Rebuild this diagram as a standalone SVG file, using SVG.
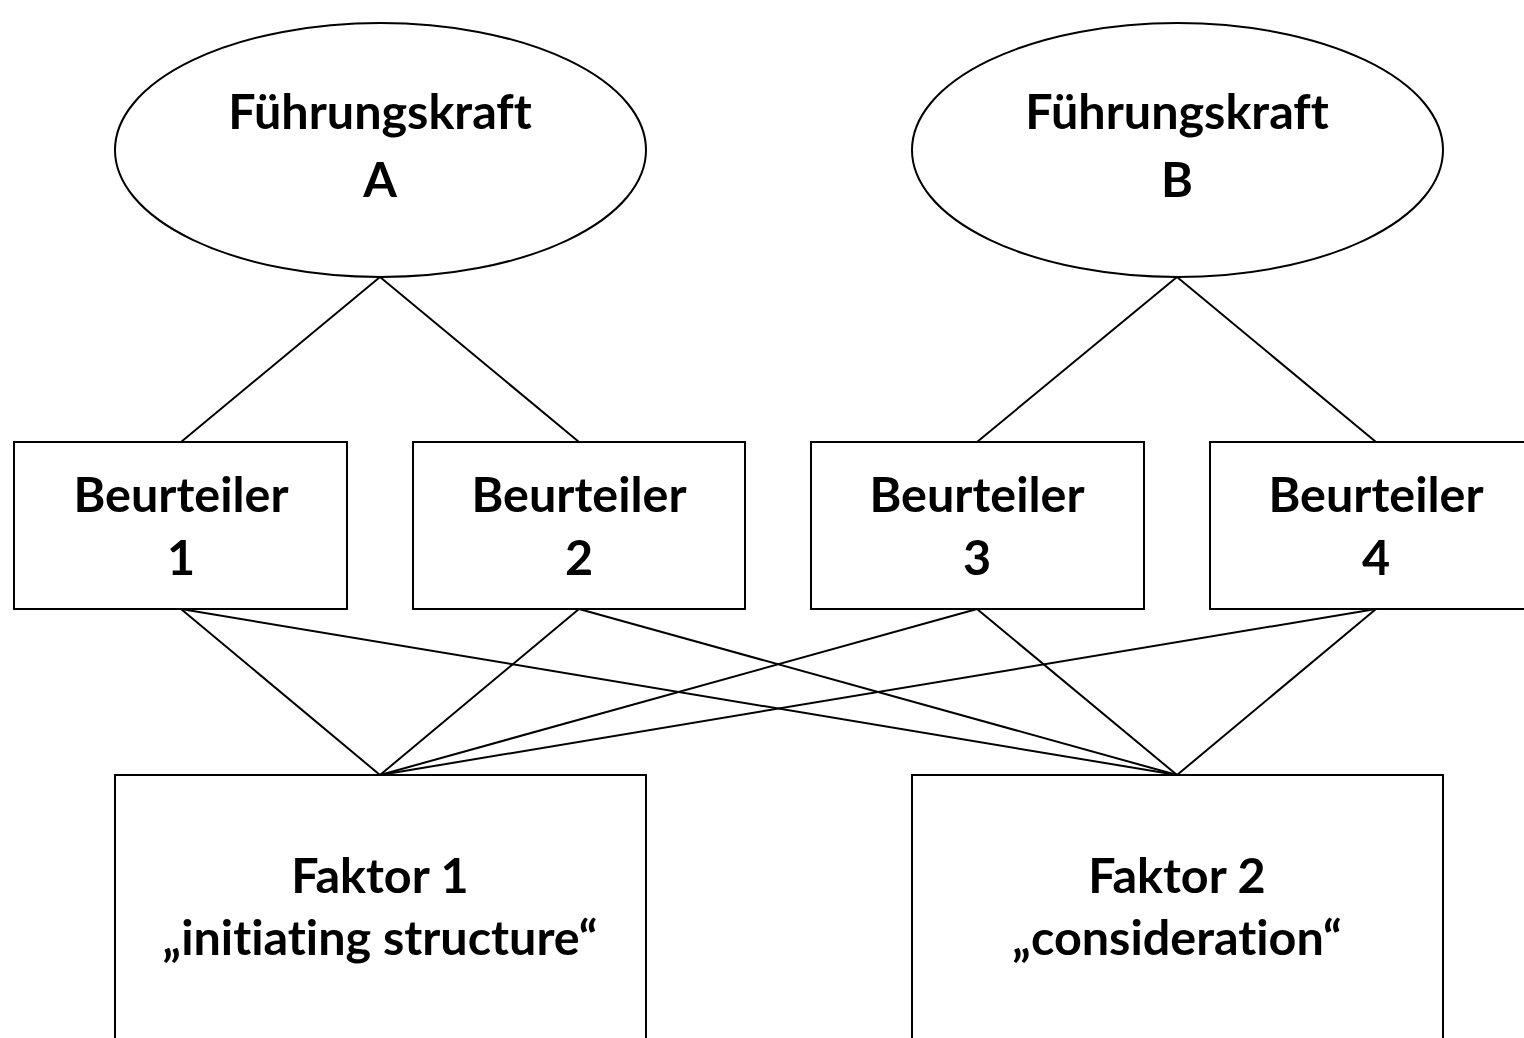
<svg xmlns="http://www.w3.org/2000/svg" width="1524" height="1038" viewBox="0 0 1524 1038">
<style>
.s{fill:#fff;stroke:#000;stroke-width:2}
.t{font-family:Lato,"Liberation Sans",sans-serif;font-weight:bold;font-size:48.5px;text-anchor:middle;fill:#000;font-variant-ligatures:none;font-feature-settings:"liga" 0,"clig" 0}
.c line{stroke:#000;stroke-width:2}
</style>
<rect width="1524" height="1038" fill="#fff"/>
<g class="c" id="connectors">
<line x1="380" y1="277" x2="181" y2="442"/>
<line x1="380" y1="277" x2="579" y2="442"/>
<line x1="1177" y1="277" x2="977" y2="442"/>
<line x1="1177" y1="277" x2="1376" y2="442"/>
<line x1="181" y1="609" x2="380" y2="775"/>
<line x1="181" y1="609" x2="1177" y2="775"/>
<line x1="579" y1="609" x2="380" y2="775"/>
<line x1="579" y1="609" x2="1177" y2="775"/>
<line x1="977" y1="609" x2="380" y2="775"/>
<line x1="977" y1="609" x2="1177" y2="775"/>
<line x1="1376" y1="609" x2="380" y2="775"/>
<line x1="1376" y1="609" x2="1177" y2="775"/>
</g>
<g id="fuehrungskraftA">
<ellipse class="s" cx="380.5" cy="150" rx="265.5" ry="127"/>
<text class="t" x="380" y="129">Führungskraft</text>
<text class="t" x="380" y="197">A</text>
</g>
<g id="fuehrungskraftB">
<ellipse class="s" cx="1177.5" cy="150" rx="265.5" ry="127"/>
<text class="t" x="1177" y="129">Führungskraft</text>
<text class="t" x="1177" y="197">B</text>
</g>
<g id="beurteiler1">
<rect class="s" x="14" y="442" width="333" height="167"/>
<text class="t" x="181" y="512">Beurteiler</text>
<text class="t" x="181" y="575">1</text>
</g>
<g id="beurteiler2">
<rect class="s" x="413" y="442" width="332" height="167"/>
<text class="t" x="579" y="512">Beurteiler</text>
<text class="t" x="579" y="575">2</text>
</g>
<g id="beurteiler3">
<rect class="s" x="811" y="442" width="333" height="167"/>
<text class="t" x="977" y="512">Beurteiler</text>
<text class="t" x="977" y="575">3</text>
</g>
<g id="beurteiler4">
<rect class="s" x="1210" y="442" width="333" height="167"/>
<text class="t" x="1376" y="512">Beurteiler</text>
<text class="t" x="1376" y="575">4</text>
</g>
<g id="faktor1">
<rect class="s" x="115" y="775" width="531" height="300"/>
<text class="t" x="380" y="893">Faktor 1</text>
<text class="t" x="380" y="955">„initiating structure“</text>
</g>
<g id="faktor2">
<rect class="s" x="912" y="775" width="531" height="300"/>
<text class="t" x="1177" y="893">Faktor 2</text>
<text class="t" x="1177" y="955">„consideration“</text>
</g>
</svg>
